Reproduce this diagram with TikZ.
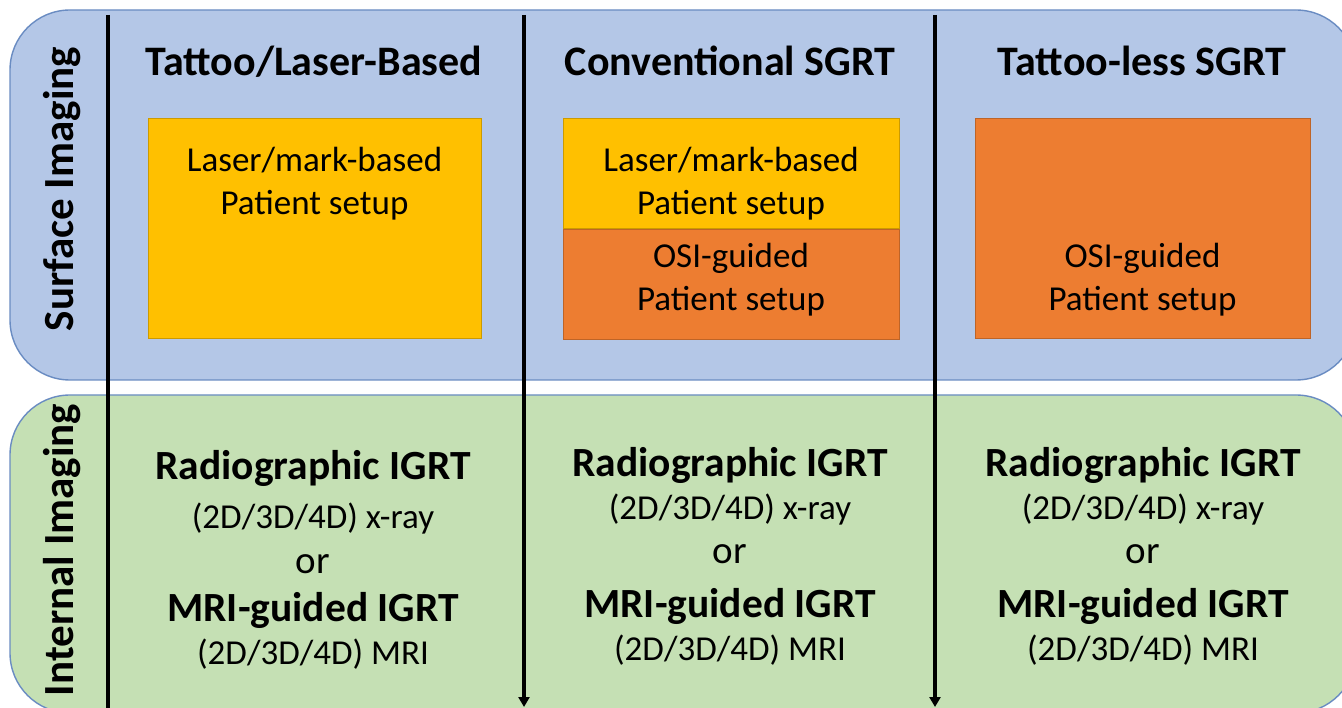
\documentclass[tikz,border=0pt]{standalone}
\usepackage{fontspec}
\setmainfont{Carlito}
\usetikzlibrary{arrows.meta, positioning}
\definecolor{surfblue}{HTML}{B4C7E7}
\definecolor{intgreen}{HTML}{C5E0B4}
\definecolor{bandedge}{HTML}{6A8CC2}
\definecolor{laseryellow}{HTML}{FFC000}
\definecolor{osiorange}{HTML}{ED7D31}
\tikzset{
  band/.style={fill=#1, draw=bandedge, line width=1.4pt, rounded corners=60pt},
  setupbox/.style={fill=#1, draw=#1!80!black, line width=0.9pt, inner sep=0pt, anchor=north west},
  setuptxt/.style={font=\fontsize{35}{40}\selectfont, anchor=base},
  colhead/.style={font=\fontsize{42}{48}\selectfont\bfseries, anchor=base},
  rowlbl/.style={font=\fontsize{43}{46}\selectfont\bfseries, rotate=90},
  igrt/.style={font=\fontsize{41.5}{46}\selectfont\bfseries, anchor=base},
  modal/.style={font=\fontsize{35}{40}\selectfont, anchor=base},
  ortxt/.style={font=\fontsize{39}{44}\selectfont, anchor=base},
  divider/.style={line width=3.1pt, black},
}
\begin{document}
\begin{tikzpicture}[x=1pt, y=-1pt]
  \useasboundingbox (0,0) rectangle (1342,708);
  \clip (0,0) rectangle (1342,708);
  % the two imaging bands
  \draw[band=surfblue] (10,10) rectangle (1356,380);
  \draw[band=intgreen] (10,395) rectangle (1356,713);
  \node[rowlbl] (surflbl) at (62,189) {Surface Imaging};
  \node[rowlbl] (intlbl) at (62,550) {Internal Imaging};
  % column dividers
  \coordinate (d1top) at (108,15);  \coordinate (d1bot) at (108,715);
  \coordinate (d2top) at (524,15);  \coordinate (d2bot) at (524,707);
  \coordinate (d3top) at (935,15);  \coordinate (d3bot) at (935,707);
  \draw[divider] (d1top) -- (d1bot);
  \draw[divider, -{Triangle[length=10pt, width=11pt]}] (d2top) -- (d2bot);
  \draw[divider, -{Triangle[length=10pt, width=11pt]}] (d3top) -- (d3bot);
  % column headings
  \foreach \c/\x/\t in {1/314/{Tattoo/Laser-Based}, 2/730/{Conventional SGRT}, 3/1142/{Tattoo-less SGRT}} {
    \node[colhead] (head\c) at (\x,76) {\t};
  }
  % patient setup boxes
  \node[setupbox=laseryellow, minimum width=333pt, minimum height=220pt] (lasbox1) at (148,118) {};
  \node[setupbox=laseryellow, minimum width=336pt, minimum height=110pt] (lasbox2) at (563,118) {};
  \node[setupbox=osiorange, minimum width=336pt, minimum height=110pt] (osibox2) at (lasbox2.south west) {};
  \node[setupbox=osiorange, minimum width=335pt, minimum height=220pt] (osibox3) at (975,118) {};
  \foreach \c/\x in {1/314.5, 2/731} {
    \node[setuptxt] (las\c a) at (\x,172) {Laser/mark-based};
    \node[setuptxt] (las\c b) at (\x,215) {Patient setup};
  }
  \foreach \c/\x in {2/731, 3/1142.5} {
    \node[setuptxt] (osi\c a) at (\x,268) {OSI-guided};
    \node[setuptxt] (osi\c b) at (\x,311) {Patient setup};
  }
  % internal imaging text
  \foreach \c/\x/\da/\db in {1/313/4/10, 2/730/0/0, 3/1143/0/0} {
    \node[igrt] (rad\c) at (\x,476+\da) {Radiographic IGRT};
    \node[modal] (xray\c) at (\x,519+\db) {(2D/3D/4D) x-ray};
    \node[ortxt] (or\c) at (\x,563+\db) {or};
    \node[igrt] (mri\c) at (\x,617+\da) {MRI-guided IGRT};
    \node[modal] (mriray\c) at (\x,660+\da) {(2D/3D/4D) MRI};
  }
\end{tikzpicture}
\end{document}
